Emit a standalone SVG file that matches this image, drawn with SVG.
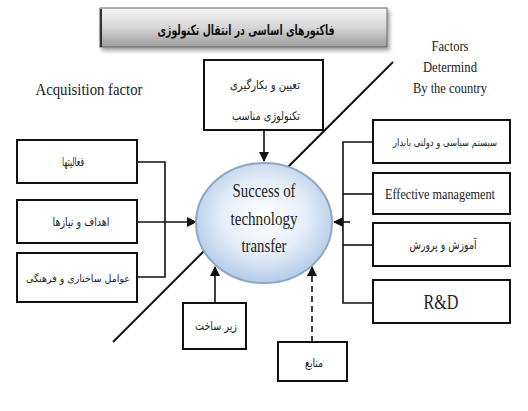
<svg xmlns="http://www.w3.org/2000/svg" width="528" height="411" viewBox="0 0 528 411">
<style>
.box{fill:#fff;stroke:#111;stroke-width:2}
.ln{fill:none;stroke:#111;stroke-width:1.6}
.fa{font-family:"DejaVu Sans","Noto Sans",sans-serif;font-size:12px;fill:#222;text-anchor:middle;direction:rtl}
.en{font-family:"Liberation Serif","Times New Roman",serif;fill:#222;text-anchor:middle}
</style>
<defs>
<linearGradient id="tg" x1="0" y1="0" x2="0" y2="1">
<stop offset="0" stop-color="#f6f6f6"/><stop offset="0.5" stop-color="#d6d6d6"/><stop offset="1" stop-color="#9c9c9c"/>
</linearGradient>
<radialGradient id="eg" cx="0.5" cy="0.45" r="0.55">
<stop offset="0" stop-color="#ffffff"/><stop offset="0.55" stop-color="#e6eef8"/><stop offset="1" stop-color="#b3cbea"/>
</radialGradient>
<marker id="ah" viewBox="0 0 10 10" refX="9" refY="5" markerWidth="10" markerHeight="10" markerUnits="userSpaceOnUse" orient="auto">
<path d="M0,0 L10,5 L0,10 z" fill="#111"/>
</marker>
<filter id="sh" x="-5%" y="-20%" width="112%" height="150%">
<feGaussianBlur in="SourceAlpha" stdDeviation="2"/><feOffset dx="2" dy="3"/>
<feComponentTransfer><feFuncA type="linear" slope="0.4"/></feComponentTransfer>
<feMerge><feMergeNode/><feMergeNode in="SourceGraphic"/></feMerge>
</filter>
</defs>
<rect width="528" height="411" fill="#fff"/>

<g id="title">
<rect x="100" y="8" width="287" height="39" fill="url(#tg)" stroke="#666" stroke-width="1" filter="url(#sh)"/>
<line x1="101" y1="9" x2="101" y2="47" stroke="#333" stroke-width="2"/>
<text x="246" y="35" class="fa" style="font-size:14px;font-weight:bold;fill:#111" textLength="177" lengthAdjust="spacingAndGlyphs">فاکتورهای اساسی در انتقال تکنولوژی</text>
</g>

<g id="divider">
<line x1="393" y1="62" x2="113" y2="342" stroke="#111" stroke-width="2"/>
</g>

<g id="labels">
<text x="89" y="95" class="en" style="font-size:17px" textLength="107" lengthAdjust="spacingAndGlyphs">Acquisition factor</text>
<text x="450" y="51" class="en" style="font-size:14px" textLength="37" lengthAdjust="spacingAndGlyphs">Factors</text>
<text x="450" y="72" class="en" style="font-size:14px" textLength="54" lengthAdjust="spacingAndGlyphs">Determind</text>
<text x="450" y="93" class="en" style="font-size:14px" textLength="74" lengthAdjust="spacingAndGlyphs">By the country</text>
</g>

<g id="connectors">
<line class="ln" x1="264" y1="130" x2="264" y2="161" marker-end="url(#ah)"/>
<polyline class="ln" points="137,162 165,162 165,277 137,277"/>
<line class="ln" x1="137" y1="222" x2="196" y2="222" marker-end="url(#ah)"/>
<polyline class="ln" points="373,142 343,142 343,303 373,303"/>
<line class="ln" x1="343" y1="194" x2="373" y2="194"/>
<line class="ln" x1="343" y1="245" x2="373" y2="245"/>
<line class="ln" x1="350" y1="222" x2="334" y2="222" marker-end="url(#ah)"/>
<line class="ln" x1="215" y1="303" x2="215" y2="267" marker-end="url(#ah)"/>
<line class="ln" x1="312" y1="342" x2="312" y2="267" stroke-dasharray="6,4" marker-end="url(#ah)"/>
</g>

<g id="success">
<ellipse cx="264" cy="223" rx="68" ry="60" fill="url(#eg)" stroke="#8fa6c4" stroke-width="2"/>
<text x="264" y="197" class="en" style="font-size:18px" textLength="63" lengthAdjust="spacingAndGlyphs">Success of</text>
<text x="264" y="225" class="en" style="font-size:18px" textLength="67" lengthAdjust="spacingAndGlyphs">technology</text>
<text x="264" y="252" class="en" style="font-size:18px" textLength="45" lengthAdjust="spacingAndGlyphs">transfer</text>
</g>

<g id="n-top">
<rect class="box" x="204" y="60" width="119" height="70"/>
<text x="265" y="89" class="fa" textLength="70" lengthAdjust="spacingAndGlyphs">تعیین و بکارگیری</text>
<text x="266" y="120" class="fa" textLength="68" lengthAdjust="spacingAndGlyphs">تکنولوژی مناسب</text>
</g>

<g id="n-l1">
<rect class="box" x="17" y="140" width="120" height="43"/>
<text x="73" y="166" class="fa" textLength="22" lengthAdjust="spacingAndGlyphs">فعالیتها</text>
</g>
<g id="n-l2">
<rect class="box" x="17" y="200" width="120" height="43"/>
<text x="81" y="226" class="fa" textLength="57" lengthAdjust="spacingAndGlyphs">اهداف و نیازها</text>
</g>
<g id="n-l3">
<rect class="box" x="17" y="253" width="120" height="49"/>
<text x="78" y="282" class="fa" style="font-size:10px" textLength="104" lengthAdjust="spacingAndGlyphs">عوامل ساختاری و فرهنگی</text>
</g>

<g id="n-r1">
<rect class="box" x="373" y="120" width="137" height="43"/>
<text x="445" y="146" class="fa" style="font-size:10px" textLength="104" lengthAdjust="spacingAndGlyphs">سیستم سیاسی و دولتی پایدار</text>
</g>
<g id="n-r2">
<rect class="box" x="373" y="173" width="137" height="41"/>
<text x="440" y="199" class="en" style="font-size:14.5px" textLength="110" lengthAdjust="spacingAndGlyphs">Effective management</text>
</g>
<g id="n-r3">
<rect class="box" x="373" y="223" width="137" height="43"/>
<text x="443" y="249" class="fa" textLength="67" lengthAdjust="spacingAndGlyphs">آموزش و پرورش</text>
</g>
<g id="n-r4">
<rect class="box" x="373" y="280" width="137" height="43"/>
<text x="441" y="309" class="en" style="font-size:20px" textLength="35" lengthAdjust="spacingAndGlyphs">R&amp;D</text>
</g>

<g id="n-infra">
<rect class="box" x="183" y="303" width="63" height="46"/>
<text x="216" y="330" class="fa" textLength="42" lengthAdjust="spacingAndGlyphs">زیر ساخت</text>
</g>
<g id="n-res">
<rect class="box" x="278" y="342" width="69" height="39"/>
<text x="314" y="367" class="fa" textLength="18" lengthAdjust="spacingAndGlyphs">منابع</text>
</g>
</svg>
